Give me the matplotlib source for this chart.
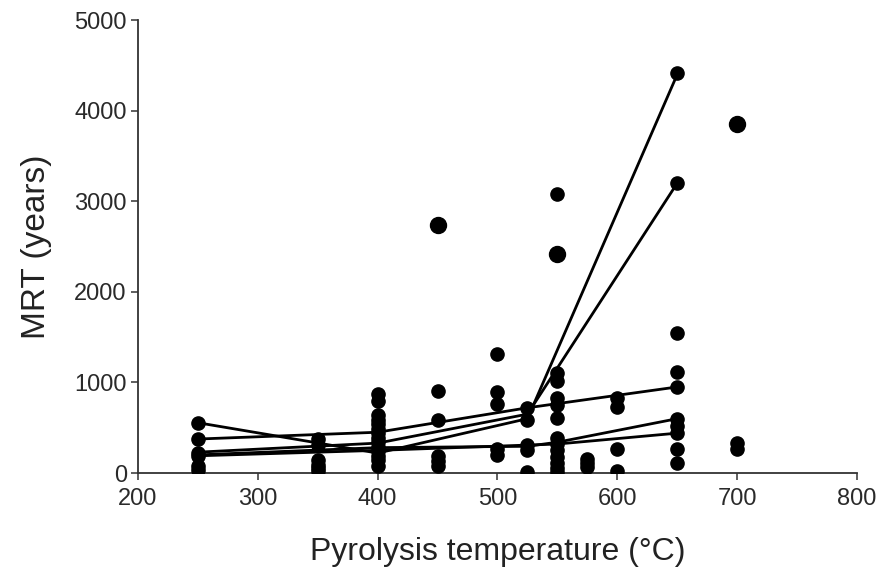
import matplotlib.pyplot as plt

plt.rcParams["font.family"] = ["Liberation Sans", "DejaVu Sans"]

# measured MRT (years) per pyrolysis temperature (°C)
t250 = [555, 375, 225, 190, 75, 35]
t350 = [370, 310, 140, 90, 50, 20]
t400 = [870, 800, 640, 590, 540, 490, 440, 390, 340, 290, 240, 190, 140, 80]
t450 = [2740, 900, 580, 190, 130, 80]
t500 = [1310, 890, 760, 270, 200]
t525 = [720, 590, 310, 250, 10]
t550 = [3080, 2420, 1100, 1020, 830, 750, 610, 390, 320, 250, 180, 110, 50, 10]
t575 = [150, 110, 70]
t600 = [830, 730, 270, 20]
t650 = [4420, 3200, 1550, 1110, 950, 600, 520, 440, 270, 110]
t700 = [3850, 330, 270]

points = {250: t250, 350: t350, 400: t400, 450: t450, 500: t500, 525: t525,
          550: t550, 575: t575, 600: t600, 650: t650, 700: t700}

# a few overlapping (duplicated) observations show as larger dots
big_t = [450, 700, 550]
big_mrt = [2740, 3850, 2420]

# fitted trend lines per study
line_temps = [
    [250, 400, 525, 650],
    [250, 400, 525, 650],
    [250, 400, 525, 650],
    [250, 400, 525, 550, 650],
    [250, 400, 550, 650],
]
line_mrt = [
    [375, 450, 720, 950],
    [555, 220, 600, 4400],
    [230, 330, 650, 3200],
    [200, 280, 295, 340, 600],
    [190, 250, 320, 440],
]

fig = plt.figure(figsize=(8.93, 5.73), dpi=100)
ax = fig.add_axes([0.1545, 0.1745, 0.8052, 0.7905])

for tx, my in zip(line_temps, line_mrt):
    ax.plot(tx, my, color="black", lw=2.0, zorder=2)

for t, vals in points.items():
    ax.plot([t] * len(vals), vals, "o", color="black", ms=9.5, zorder=3,
            linestyle="none")
ax.plot(big_t, big_mrt, "o", color="black", ms=11.5, zorder=3, linestyle="none")

ax.set_xlim(200, 800)
ax.set_ylim(0, 5000)
ax.set_xticks(range(200, 801, 100))
ax.set_yticks(range(0, 5001, 1000))
for s in ["top", "right"]:
    ax.spines[s].set_visible(False)
for s in ["left", "bottom"]:
    ax.spines[s].set_color("#333333")
    ax.spines[s].set_linewidth(1.3)
ax.tick_params(direction="out", length=5, width=1.1, color="#333333",
               labelsize=17, labelcolor="#2a2a2a", pad=3)
ax.tick_params(axis="x", pad=6)
ax.set_xlabel("Pyrolysis temperature (°C)", fontsize=23, color="#222222", labelpad=19)
ax.set_ylabel("MRT (years)", fontsize=24, color="#222222", labelpad=16)

fig.savefig("out.png", dpi=100)
